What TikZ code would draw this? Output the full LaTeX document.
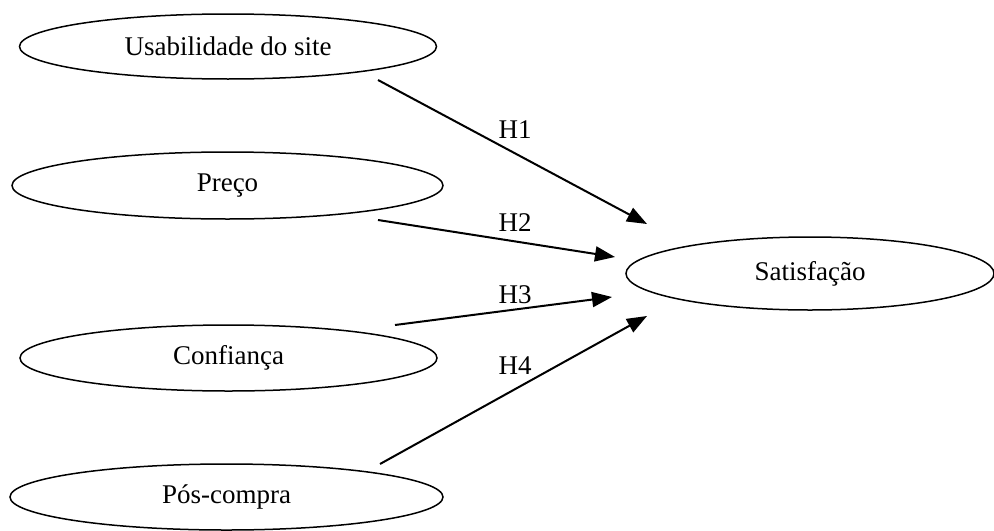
\documentclass[tikz,border=0pt]{standalone}
\usepackage{fontspec}
\setmainfont{Liberation Serif}
\usetikzlibrary{arrows.meta,shapes.geometric}

\begin{document}
\begin{tikzpicture}[x=0.5pt,y=-0.5pt,
    construto/.style={ellipse, draw, line width=0.75pt, inner sep=0pt,
        font=\fontsize{13.5}{16}\selectfont},
    hipotese/.style={-{Triangle[length=10pt,width=7.5pt]}, line width=1pt},
    rotulo/.style={font=\fontsize{13.5}{16}\selectfont, inner sep=0pt}]
    \useasboundingbox (0,0) rectangle (994,530);

    % Construtos
    \node[construto, minimum width=208.5pt, minimum height=32.5pt] (usab) at (228,46.5) {Usabilidade do site};
    \node[construto, minimum width=215.5pt, minimum height=33.5pt] (preco) at (227.5,185.5) {Preço};
    \node[construto, minimum width=208.5pt, minimum height=33pt] (conf) at (228.5,358) {Confiança};
    \node[construto, minimum width=216.5pt, minimum height=33pt] (pos) at (226.5,497) {Pós-compra};
    \node[construto, minimum width=184pt, minimum height=36.5pt] (satisf) at (810,273.5) {Satisfação};

    % Pontas das hipóteses
    \coordinate (u1) at (378,80);   \coordinate (s1) at (647,224);
    \coordinate (p1) at (378,220);  \coordinate (s2) at (615,257);
    \coordinate (c1) at (395,325);  \coordinate (s3) at (612,297);
    \coordinate (q1) at (380,464);  \coordinate (s4) at (647,316);

    % Hipóteses
    \draw[hipotese] (u1) -- (s1);
    \draw[hipotese] (p1) -- (s2);
    \draw[hipotese] (c1) -- (s3);
    \draw[hipotese] (q1) -- (s4);

    \node[rotulo] (h1) at (515,130) {H1};
    \node[rotulo] (h2) at (515,223) {H2};
    \node[rotulo] (h3) at (515,295) {H3};
    \node[rotulo] (h4) at (515,366) {H4};
\end{tikzpicture}
\end{document}
